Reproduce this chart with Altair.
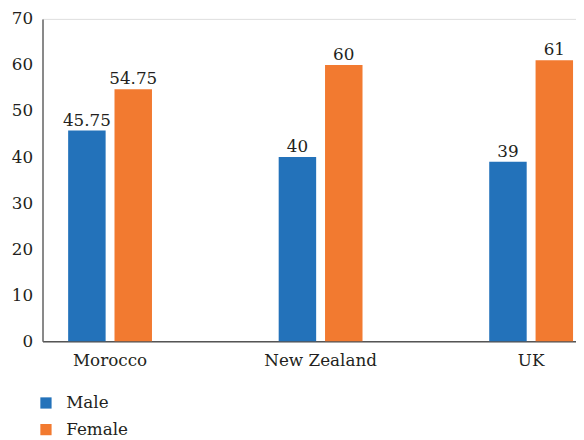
import altair as alt
import pandas as pd

countries = ["Morocco", "New Zealand", "UK"]
genders = ["Male", "Female"]
male = [45.75, 40, 39]
female = [54.75, 60, 61]
colors = ["#2372BA", "#F27A30"]
y_ticks = [0, 10, 20, 30, 40, 50, 60, 70]

rows = []
for i, c in enumerate(countries):
    rows.append({"country": c, "gender": "Male", "value": male[i]})
    rows.append({"country": c, "gender": "Female", "value": female[i]})
df = pd.DataFrame(rows)

FONT = "DejaVu Serif"
TXT = "#231F20"

x_enc = alt.X(
    "country:N",
    sort=countries,
    scale=alt.Scale(range=[0, 564], paddingInner=0.3583, paddingOuter=0),
    axis=alt.Axis(
        title=None, labelAngle=0, ticks=False, domain=True,
        domainColor="#555555", domainWidth=1.5,
        labelFont=FONT, labelFontSize=17, labelColor=TXT, labelPadding=12,
    ),
)
xoff_enc = alt.XOffset(
    "gender:N", sort=genders,
    scale=alt.Scale(paddingInner=0.1915, paddingOuter=0.553),
)
y_enc = alt.Y(
    "value:Q",
    scale=alt.Scale(domain=[0, 70]),
    axis=alt.Axis(
        values=y_ticks, title=None, grid=False, ticks=False,
        domainColor="#666666", domainWidth=1.5,
        labelFont=FONT, labelFontSize=17, labelColor=TXT, labelPadding=10,
    ),
)

base = alt.Chart(df)

bars = base.mark_bar().encode(
    x=x_enc,
    xOffset=xoff_enc,
    y=y_enc,
    color=alt.Color(
        "gender:N", sort=genders,
        scale=alt.Scale(domain=genders, range=colors),
        legend=alt.Legend(
            title=None, orient="none", legendX=-5, legendY=381,
            direction="vertical", symbolType="square", symbolSize=130,
            symbolStrokeWidth=0, labelFont=FONT, labelFontSize=17,
            labelColor=TXT, labelOffset=12, rowPadding=9, padding=0,
        ),
    ),
)

labels = base.mark_text(
    baseline="alphabetic", dy=-5, font=FONT, fontSize=17, color=TXT
).encode(
    x=alt.X("country:N", sort=countries),
    xOffset=alt.XOffset("gender:N", sort=genders),
    y=alt.Y("value:Q"),
    text=alt.Text("value:Q", format="~g"),
)

chart = (
    alt.layer(bars, labels)
    .properties(
        width=541, height=327,
        autosize=alt.AutoSizeParams(type="none"),
        padding={"left": 35, "top": 8, "right": 0, "bottom": 97},
    )
    .configure_view(stroke=None)
    .configure(font=FONT)
)

chart.save("out.html", embed_options={"renderer": "svg", "actions": False})
